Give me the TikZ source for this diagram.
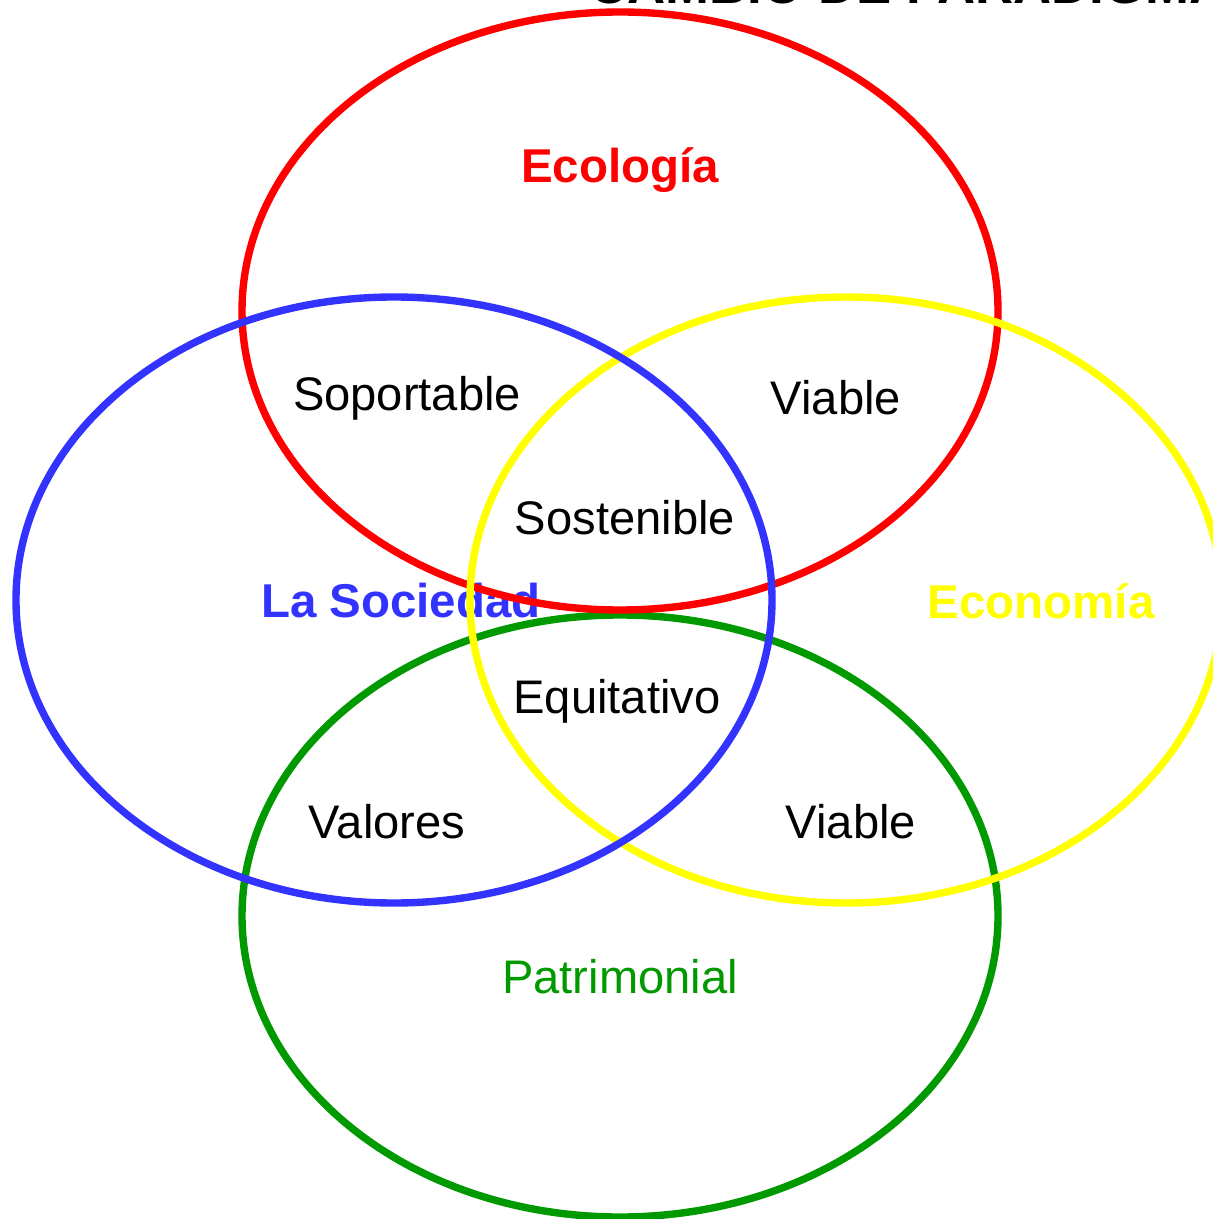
\documentclass[tikz,border=0pt]{standalone}
\usepackage{fontspec}
\setmainfont{Liberation Sans}
\definecolor{socblue}{RGB}{51,51,255}
\definecolor{patgreen}{RGB}{0,153,0}
\definecolor{ecoyellow}{RGB}{255,255,0}
\begin{document}
\begin{tikzpicture}[x=0.01cm, y=-0.01cm]

      \tikzset{ring/.style={line width=2.1pt},
               head/.style={font=\fontsize{13.5}{16}\selectfont\bfseries},
               word/.style={font=\fontsize{13.4}{16}\selectfont, text=black}}
      \clip (0,0) rectangle (1213,1219);
% Title
      	\node[font=\fontsize{15}{18}\selectfont\bfseries, anchor=base west, inner sep=0pt] (title) at (589,4) {CAMBIO DE PARADIGMA};
% Labels
      	\node[head, text=red] (eco) at (620,170) {Ecología};
      	\node[head, text=socblue] (soc) at (401,601) {La Sociedad};
      	\node[head, text=ecoyellow] (econ) at (1041,601) {Economía};
      	\node[word, text=patgreen] (pat) at (620,977) {Patrimonial};
      	\node[word] (sop) at (407,398) {Soportable};
      	\node[word] (via1) at (836,398) {Viable};
      	\node[word] (sos) at (625,518) {Sostenible};
      	\node[word] (equ) at (617,701) {Equitativo};
      	\node[word] (val) at (387,822) {Valores};
      	\node[word] (via2) at (851,822) {Viable};
% Circles
      	\coordinate (cR) at (620,311);
      	\coordinate (cB) at (394,600);
      	\coordinate (cY) at (846,600);
      	\coordinate (cG) at (620,916);
		\draw[ring, patgreen] (cG) ellipse [x radius=378, y radius=301];
		\draw[ring, red] (cR) ellipse [x radius=378, y radius=299];
		\draw[ring, ecoyellow] (cY) ellipse [x radius=376, y radius=303];
		\draw[ring, socblue] (cB) ellipse [x radius=378, y radius=303];

	\end{tikzpicture}
\end{document}
